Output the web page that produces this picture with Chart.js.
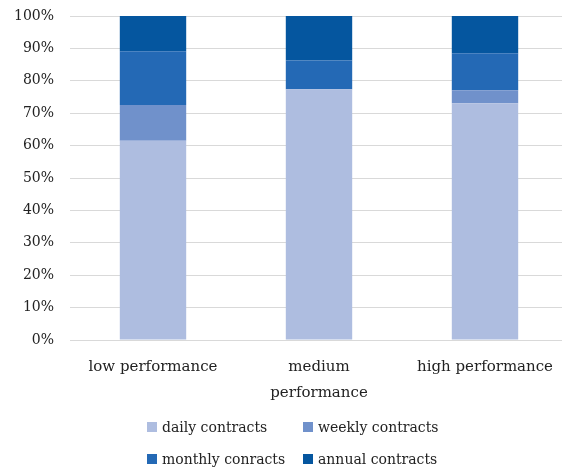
<!DOCTYPE html>
<html>
<head>
<meta charset="utf-8">
<script src="https://cdn.jsdelivr.net/npm/chart.js@4/dist/chart.umd.min.js"></script>
<style>
  html, body { margin: 0; padding: 0; background: #fff; overflow: hidden; }
  #wrap { position: relative; width: 568px; height: 474px; }
  #legend {
    position: absolute; left: 147px; top: 415px;
    display: grid; grid-template-columns: 156px auto; row-gap: 9px;
    font-family: "DejaVu Serif", serif; font-size: 14px; color: #222;
  }
  #legend .item { display: flex; align-items: center; height: 23px; white-space: nowrap; }
  #legend .box { width: 10px; height: 10px; margin-right: 5px; flex: none; }
</style>
</head>
<body>
<div id="wrap">
  <canvas id="c" width="568" height="474"></canvas>
  <div id="legend"></div>
</div>
<script>
// Share of contract types by firm performance group (percent of each group)
const categories = [["low performance"], ["medium", "performance"], ["high performance"]];
const dailyContracts   = [61.5, 77.4, 73.1];
const weeklyContracts  = [11.0, 0.0, 4.0];
const monthlyContracts = [16.6, 8.9, 11.4];
const annualContracts  = [10.9, 13.7, 11.5];
const seriesNames  = ["daily contracts", "weekly contracts", "monthly conracts", "annual contracts"];
const seriesColors = ["#aebde0", "#7091cb", "#2469b5", "#05569f"];
const yTicks = [0, 10, 20, 30, 40, 50, 60, 70, 80, 90, 100];

const seriesValues = [dailyContracts, weeklyContracts, monthlyContracts, annualContracts];

const chart = new Chart(document.getElementById("c"), {
  type: "bar",
  data: {
    labels: categories,
    datasets: seriesValues.map((vals, i) => ({
      label: seriesNames[i],
      data: vals,
      backgroundColor: seriesColors[i],
      borderWidth: 0,
      categoryPercentage: 1.0,
      barPercentage: 0.4
    }))
  },
  options: {
    responsive: false,
    animation: false,
    layout: { padding: { top: 16, bottom: 72, left: 2, right: 0 } },
    plugins: { legend: { display: false }, tooltip: { enabled: false } },
    scales: {
      x: {
        stacked: true,
        grid: { display: false },
        border: { display: false },
        ticks: {
          color: "#222",
          font: { family: "DejaVu Serif", size: 15, lineHeight: 1.75 },
          padding: 6,
          maxRotation: 0
        },
        afterFit: s => { s.height = 62; s.paddingTop = 0; s.paddingBottom = 0; }
      },
      y: {
        stacked: true,
        min: 0, max: 100,
        afterBuildTicks: s => { s.ticks = yTicks.map(v => ({ value: v })); },
        grid: { color: "#d9d9d9", lineWidth: 1, drawTicks: false },
        border: { display: false },
        ticks: {
          color: "#222",
          font: { family: "DejaVu Serif", size: 14 },
          padding: 16,
          callback: v => v + "%"
        },
        afterFit: s => { s.width = 68; s.paddingTop = 0; s.paddingBottom = 0; }
      }
    }
  }
});

// Legend laid out in two columns, built from the chart's datasets
const legendEl = document.getElementById("legend");
chart.data.datasets.forEach(ds => {
  const item = document.createElement("div");
  item.className = "item";
  const box = document.createElement("span");
  box.className = "box";
  box.style.background = ds.backgroundColor;
  const txt = document.createElement("span");
  txt.textContent = ds.label;
  item.appendChild(box);
  item.appendChild(txt);
  legendEl.appendChild(item);
});
</script>
</body>
</html>
